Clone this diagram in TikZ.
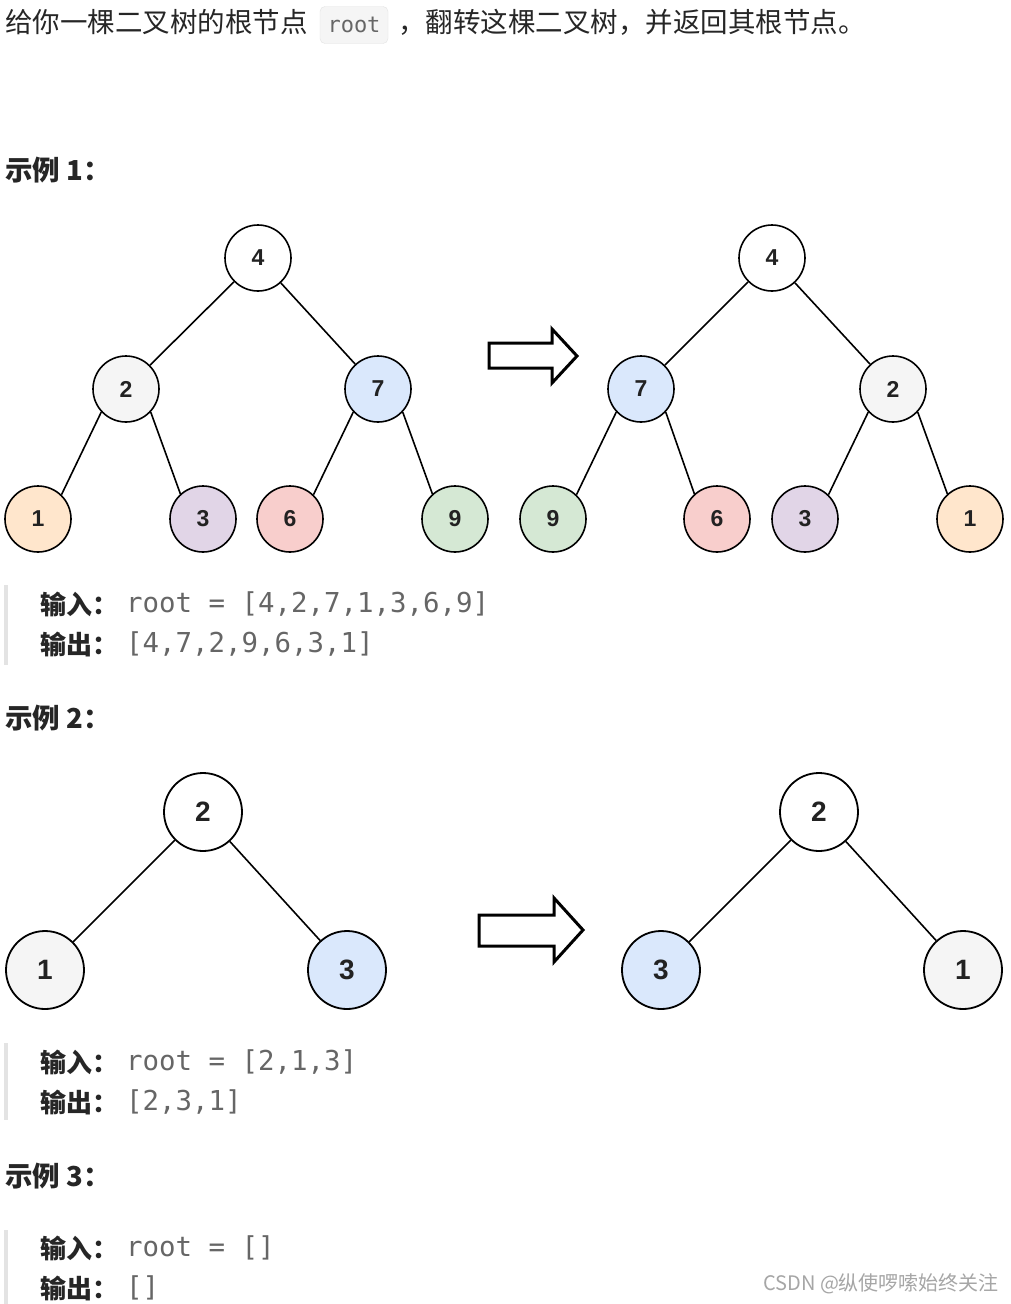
\documentclass[tikz,border=0pt]{standalone}
\usepackage{fontspec}
\setsansfont{Liberation Sans}
\setmonofont{DejaVu Sans Mono}
\newfontfamily\cjk{Noto Sans CJK SC}
\usetikzlibrary{calc}
\definecolor{txt}{HTML}{262626}
\definecolor{codegray}{HTML}{666666}
\definecolor{barcol}{HTML}{E3E3E3}
\definecolor{cgray}{HTML}{F5F5F5}
\definecolor{cblue}{HTML}{DAE8FC}
\definecolor{corange}{HTML}{FFE6CC}
\definecolor{cpurple}{HTML}{E1D5E7}
\definecolor{cred}{HTML}{F8CECC}
\definecolor{cgreen}{HTML}{D5E8D4}
\definecolor{digit}{HTML}{222222}
\tikzset{
  txtnode/.style={anchor=west, inner sep=0pt, text=txt, font=\cjk\fontsize{27.5}{30}\selectfont},
  headnode/.style={anchor=west, inner sep=0pt, text=txt, font=\cjk\bfseries\fontsize{27.5}{30}\selectfont},
  lblnode/.style={anchor=west, inner sep=0pt, text=txt, font=\cjk\bfseries\fontsize{26}{30}\selectfont},
  codenode/.style={anchor=west, inner sep=0pt, text=codegray, font=\ttfamily\fontsize{27.4}{30}\selectfont},
  smallc/.style={circle, draw=black, line width=1.6pt, minimum size=66pt, inner sep=0pt, text=digit, font=\sffamily\bfseries\fontsize{23}{26}\selectfont},
  bigc/.style={circle, draw=black, line width=1.8pt, minimum size=78pt, inner sep=0pt, text=digit, font=\sffamily\bfseries\fontsize{28}{30}\selectfont},
  edge/.style={line width=1.6pt, draw=black},
  bigarrow/.style={line width=3pt, draw=black, fill=white, line join=miter},
  bar/.style={fill=barcol, draw=none}
}
\begin{document}
\begin{tikzpicture}[x=1pt,y=-1pt]
\useasboundingbox[fill=white] (0,0) rectangle (1010,1304);
% top line
\node[txtnode] (t1) at (5,22) {给你一棵二叉树的根节点};
\node[draw=barcol, fill=cgray, rounded corners=5pt, minimum width=68pt, minimum height=37pt, inner sep=0pt, text=codegray, font=\ttfamily\fontsize{22}{24}\selectfont] (tcode) at (354,25) {root};
\node[txtnode] (t2) at (398,22) {，翻转这棵二叉树，并返回其根节点。};
% example 1
\node[headnode] (h1) at (5,170) {示例 1：};
% tree 1 left
\node[smallc, fill=white] (a4) at (258,258) {4};
\node[smallc, fill=cgray] (a2) at (126,389) {2};
\node[smallc, fill=cblue] (a7) at (378,389) {7};
\node[smallc, fill=corange] (a1) at (38,519) {1};
\node[smallc, fill=cpurple] (a3) at (203,519) {3};
\node[smallc, fill=cred] (a6) at (290,519) {6};
\node[smallc, fill=cgreen] (a9) at (455,519) {9};
\draw[edge] (a4) -- (a2);
\draw[edge] (a4) -- (a7);
\draw[edge] (a2.223) -- (a1.46);
\draw[edge] (a2.-43) -- (a3.132);
\draw[edge] (a7.223) -- (a6.46);
\draw[edge] (a7.-43) -- (a9.132);
% tree 1 right
\node[smallc, fill=white] (b4) at (772,258) {4};
\node[smallc, fill=cblue] (b7) at (641,389) {7};
\node[smallc, fill=cgray] (b2) at (893,389) {2};
\node[smallc, fill=cgreen] (b9) at (553,519) {9};
\node[smallc, fill=cred] (b6) at (717,519) {6};
\node[smallc, fill=cpurple] (b3) at (805,519) {3};
\node[smallc, fill=corange] (b1) at (970,519) {1};
\draw[edge] (b4) -- (b7);
\draw[edge] (b4) -- (b2);
\draw[edge] (b7.223) -- (b9.46);
\draw[edge] (b7.-43) -- (b6.132);
\draw[edge] (b2.223) -- (b3.46);
\draw[edge] (b2.-43) -- (b1.132);
% arrow 1
\draw[bigarrow] (489,343) -- (552,343) -- (552,329) -- (577,356) -- (552,383) -- (552,368) -- (489,368) -- cycle;
% code 1
\fill[bar] (4,585) rectangle (8,665);
\node[lblnode] (i1) at (40,604) {输入：};
\node[codenode] (c1) at (126,604) {root = [4,2,7,1,3,6,9]};
\node[lblnode] (o1) at (40,644) {输出：};
\node[codenode] (d1) at (126,644) {[4,7,2,9,6,3,1]};
% example 2
\node[headnode] (h2) at (5,718) {示例 2：};
\node[bigc, fill=white] (p2) at (203,812) {2};
\node[bigc, fill=cgray] (p1) at (45,970) {1};
\node[bigc, fill=cblue] (p3) at (347,970) {3};
\draw[edge] (p2) -- (p1);
\draw[edge] (p2) -- (p3);
\node[bigc, fill=white] (q2) at (819,812) {2};
\node[bigc, fill=cblue] (q3) at (661,970) {3};
\node[bigc, fill=cgray] (q1) at (963,970) {1};
\draw[edge] (q2) -- (q3);
\draw[edge] (q2) -- (q1);
\draw[bigarrow] (479,915) -- (554,915) -- (554,898) -- (583,930) -- (554,962) -- (554,946) -- (479,946) -- cycle;
% code 2
\fill[bar] (4,1043) rectangle (8,1120);
\node[lblnode] (i2) at (40,1062) {输入：};
\node[codenode] (c2) at (126,1062) {root = [2,1,3]};
\node[lblnode] (o2) at (40,1102) {输出：};
\node[codenode] (d2) at (126,1102) {[2,3,1]};
% example 3
\node[headnode] (h3) at (5,1176) {示例 3：};
\fill[bar] (4,1230) rectangle (8,1304);
\node[lblnode] (i3) at (40,1248) {输入：};
\node[codenode] (c3) at (126,1248) {root = []};
\node[lblnode] (o3) at (40,1288) {输出：};
\node[codenode] (d3) at (126,1288) {[]};
% watermark
\node[anchor=west, inner sep=0pt, text=black!35, font=\cjk\fontsize{20}{22}\selectfont] (wm) at (763,1284) {CSDN @纵使啰嗦始终关注};
\end{tikzpicture}
\end{document}
